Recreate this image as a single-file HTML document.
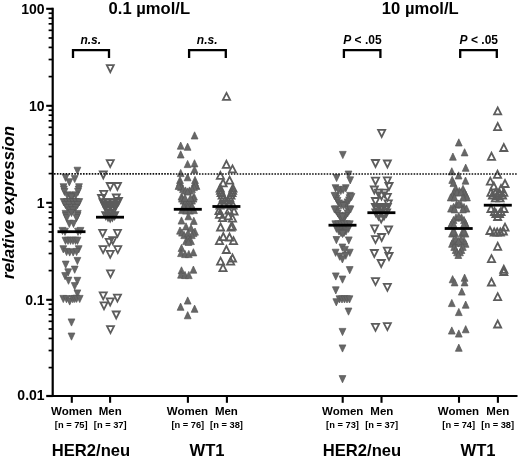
<!DOCTYPE html>
<html><head><meta charset="utf-8"><style>html,body{margin:0;padding:0;background:#fff}svg{display:block;filter:grayscale(1)}text{font-family:"Liberation Sans",sans-serif;font-weight:bold;fill:#000}</style></head><body>
<svg width="520" height="459" viewBox="0 0 520 459">
<rect width="520" height="459" fill="#fff"/>
<path d="M74.0,167.2H80.8L77.4,174.4Z" fill="#676767" stroke="#585858" stroke-width="0.7"/>
<path d="M62.2,174.2H69.0L65.6,181.4Z" fill="#676767" stroke="#585858" stroke-width="0.7"/>
<path d="M71.3,175.4H78.1L74.7,182.6Z" fill="#676767" stroke="#585858" stroke-width="0.7"/>
<path d="M65.9,178.7H72.7L69.3,185.9Z" fill="#676767" stroke="#585858" stroke-width="0.7"/>
<path d="M60.1,183.7H66.9L63.5,190.9Z" fill="#676767" stroke="#585858" stroke-width="0.7"/>
<path d="M60.5,186.0H67.3L63.9,193.2Z" fill="#676767" stroke="#585858" stroke-width="0.7"/>
<path d="M61.1,188.3H67.9L64.5,195.5Z" fill="#676767" stroke="#585858" stroke-width="0.7"/>
<path d="M75.6,183.7H82.4L79.0,190.9Z" fill="#676767" stroke="#585858" stroke-width="0.7"/>
<path d="M75.2,186.0H82.0L78.6,193.2Z" fill="#676767" stroke="#585858" stroke-width="0.7"/>
<path d="M74.6,188.3H81.4L78.0,195.5Z" fill="#676767" stroke="#585858" stroke-width="0.7"/>
<path d="M63.9,191.9H70.7L67.3,199.1Z" fill="#676767" stroke="#585858" stroke-width="0.7"/>
<path d="M66.6,192.1H73.4L70.0,199.3Z" fill="#676767" stroke="#585858" stroke-width="0.7"/>
<path d="M69.6,192.1H76.4L73.0,199.3Z" fill="#676767" stroke="#585858" stroke-width="0.7"/>
<path d="M72.3,191.9H79.1L75.7,199.1Z" fill="#676767" stroke="#585858" stroke-width="0.7"/>
<path d="M68.1,193.7H74.9L71.5,200.9Z" fill="#676767" stroke="#585858" stroke-width="0.7"/>
<path d="M60.3,198.6H67.1L63.7,205.8Z" fill="#676767" stroke="#585858" stroke-width="0.7"/>
<path d="M63.6,198.6H70.4L67.0,205.8Z" fill="#676767" stroke="#585858" stroke-width="0.7"/>
<path d="M66.6,198.6H73.4L70.0,205.8Z" fill="#676767" stroke="#585858" stroke-width="0.7"/>
<path d="M69.6,198.6H76.4L73.0,205.8Z" fill="#676767" stroke="#585858" stroke-width="0.7"/>
<path d="M72.6,198.6H79.4L76.0,205.8Z" fill="#676767" stroke="#585858" stroke-width="0.7"/>
<path d="M75.9,198.6H82.7L79.3,205.8Z" fill="#676767" stroke="#585858" stroke-width="0.7"/>
<path d="M62.1,201.4H68.9L65.5,208.6Z" fill="#676767" stroke="#585858" stroke-width="0.7"/>
<path d="M65.6,201.4H72.4L69.0,208.6Z" fill="#676767" stroke="#585858" stroke-width="0.7"/>
<path d="M70.6,201.4H77.4L74.0,208.6Z" fill="#676767" stroke="#585858" stroke-width="0.7"/>
<path d="M74.1,201.4H80.9L77.5,208.6Z" fill="#676767" stroke="#585858" stroke-width="0.7"/>
<path d="M64.1,204.4H70.9L67.5,211.6Z" fill="#676767" stroke="#585858" stroke-width="0.7"/>
<path d="M68.1,204.4H74.9L71.5,211.6Z" fill="#676767" stroke="#585858" stroke-width="0.7"/>
<path d="M72.1,204.4H78.9L75.5,211.6Z" fill="#676767" stroke="#585858" stroke-width="0.7"/>
<path d="M66.6,206.9H73.4L70.0,214.1Z" fill="#676767" stroke="#585858" stroke-width="0.7"/>
<path d="M69.6,206.9H76.4L73.0,214.1Z" fill="#676767" stroke="#585858" stroke-width="0.7"/>
<path d="M62.1,210.4H68.9L65.5,217.6Z" fill="#676767" stroke="#585858" stroke-width="0.7"/>
<path d="M74.4,210.4H81.2L77.8,217.6Z" fill="#676767" stroke="#585858" stroke-width="0.7"/>
<path d="M62.4,212.4H69.2L65.8,219.6Z" fill="#676767" stroke="#585858" stroke-width="0.7"/>
<path d="M74.1,212.4H80.9L77.5,219.6Z" fill="#676767" stroke="#585858" stroke-width="0.7"/>
<path d="M63.4,214.4H70.2L66.8,221.6Z" fill="#676767" stroke="#585858" stroke-width="0.7"/>
<path d="M73.1,214.4H79.9L76.5,221.6Z" fill="#676767" stroke="#585858" stroke-width="0.7"/>
<path d="M68.1,209.4H74.9L71.5,216.6Z" fill="#676767" stroke="#585858" stroke-width="0.7"/>
<path d="M65.9,220.3H72.7L69.3,227.5Z" fill="#676767" stroke="#585858" stroke-width="0.7"/>
<path d="M70.1,220.3H76.9L73.5,227.5Z" fill="#676767" stroke="#585858" stroke-width="0.7"/>
<path d="M59.1,227.4H65.9L62.5,234.6Z" fill="#676767" stroke="#585858" stroke-width="0.7"/>
<path d="M61.6,228.2H68.4L65.0,235.4Z" fill="#676767" stroke="#585858" stroke-width="0.7"/>
<path d="M74.6,228.2H81.4L78.0,235.4Z" fill="#676767" stroke="#585858" stroke-width="0.7"/>
<path d="M77.1,227.4H83.9L80.5,234.6Z" fill="#676767" stroke="#585858" stroke-width="0.7"/>
<path d="M62.1,237.2H68.9L65.5,244.4Z" fill="#676767" stroke="#585858" stroke-width="0.7"/>
<path d="M64.6,237.2H71.4L68.0,244.4Z" fill="#676767" stroke="#585858" stroke-width="0.7"/>
<path d="M67.1,237.2H73.9L70.5,244.4Z" fill="#676767" stroke="#585858" stroke-width="0.7"/>
<path d="M69.6,237.2H76.4L73.0,244.4Z" fill="#676767" stroke="#585858" stroke-width="0.7"/>
<path d="M72.1,237.2H78.9L75.5,244.4Z" fill="#676767" stroke="#585858" stroke-width="0.7"/>
<path d="M74.1,237.2H80.9L77.5,244.4Z" fill="#676767" stroke="#585858" stroke-width="0.7"/>
<path d="M59.9,245.7H66.7L63.3,252.9Z" fill="#676767" stroke="#585858" stroke-width="0.7"/>
<path d="M75.3,245.7H82.1L78.7,252.9Z" fill="#676767" stroke="#585858" stroke-width="0.7"/>
<path d="M63.2,248.4H70.0L66.6,255.6Z" fill="#676767" stroke="#585858" stroke-width="0.7"/>
<path d="M66.3,248.9H73.1L69.7,256.1Z" fill="#676767" stroke="#585858" stroke-width="0.7"/>
<path d="M69.8,248.9H76.6L73.2,256.1Z" fill="#676767" stroke="#585858" stroke-width="0.7"/>
<path d="M73.2,248.4H80.0L76.6,255.6Z" fill="#676767" stroke="#585858" stroke-width="0.7"/>
<path d="M74.0,257.4H80.8L77.4,264.6Z" fill="#676767" stroke="#585858" stroke-width="0.7"/>
<path d="M62.3,261.1H69.1L65.7,268.3Z" fill="#676767" stroke="#585858" stroke-width="0.7"/>
<path d="M71.3,266.1H78.1L74.7,273.3Z" fill="#676767" stroke="#585858" stroke-width="0.7"/>
<path d="M64.8,268.8H71.6L68.2,276.0Z" fill="#676767" stroke="#585858" stroke-width="0.7"/>
<path d="M61.7,272.6H68.5L65.1,279.8Z" fill="#676767" stroke="#585858" stroke-width="0.7"/>
<path d="M65.1,277.1H71.9L68.5,284.3Z" fill="#676767" stroke="#585858" stroke-width="0.7"/>
<path d="M74.0,277.3H80.8L77.4,284.5Z" fill="#676767" stroke="#585858" stroke-width="0.7"/>
<path d="M71.3,282.6H78.1L74.7,289.8Z" fill="#676767" stroke="#585858" stroke-width="0.7"/>
<path d="M74.0,289.9H80.8L77.4,297.1Z" fill="#676767" stroke="#585858" stroke-width="0.7"/>
<path d="M59.9,295.4H66.7L63.3,302.6Z" fill="#676767" stroke="#585858" stroke-width="0.7"/>
<path d="M63.1,295.6H69.9L66.5,302.8Z" fill="#676767" stroke="#585858" stroke-width="0.7"/>
<path d="M66.3,297.9H73.1L69.7,305.1Z" fill="#676767" stroke="#585858" stroke-width="0.7"/>
<path d="M69.4,295.6H76.2L72.8,302.8Z" fill="#676767" stroke="#585858" stroke-width="0.7"/>
<path d="M71.3,295.4H78.1L74.7,302.6Z" fill="#676767" stroke="#585858" stroke-width="0.7"/>
<path d="M73.2,295.2H80.0L76.6,302.4Z" fill="#676767" stroke="#585858" stroke-width="0.7"/>
<path d="M76.3,295.4H83.1L79.7,302.6Z" fill="#676767" stroke="#585858" stroke-width="0.7"/>
<path d="M68.1,318.9H74.9L71.5,326.1Z" fill="#676767" stroke="#585858" stroke-width="0.7"/>
<path d="M68.1,333.0H74.9L71.5,340.2Z" fill="#676767" stroke="#585858" stroke-width="0.7"/>
<rect x="57.5" y="230.3" width="28" height="2.8" fill="#000"/>
<path d="M106.8,65.2H113.8L110.3,72.2Z" fill="none" stroke="#5c5c5c" stroke-width="1.8"/>
<path d="M106.7,160.1H113.8L110.2,167.1Z" fill="none" stroke="#5c5c5c" stroke-width="1.8"/>
<path d="M99.8,171.5H106.8L103.3,178.5Z" fill="none" stroke="#5c5c5c" stroke-width="1.8"/>
<path d="M106.7,183.0H113.8L110.2,190.0Z" fill="none" stroke="#5c5c5c" stroke-width="1.8"/>
<path d="M113.9,183.0H121.0L117.4,190.0Z" fill="none" stroke="#5c5c5c" stroke-width="1.8"/>
<path d="M100.2,190.8H107.3L103.8,197.8Z" fill="none" stroke="#5c5c5c" stroke-width="1.8"/>
<path d="M98.0,195.0H105.0L101.5,202.0Z" fill="none" stroke="#5c5c5c" stroke-width="1.8"/>
<path d="M112.8,194.5H119.8L116.3,201.5Z" fill="none" stroke="#5c5c5c" stroke-width="1.8"/>
<path d="M115.0,198.0H122.0L118.5,205.0Z" fill="none" stroke="#5c5c5c" stroke-width="1.8"/>
<path d="M99.5,199.2H106.5L103.0,206.2Z" fill="none" stroke="#5c5c5c" stroke-width="1.8"/>
<path d="M104.0,199.2H111.0L107.5,206.2Z" fill="none" stroke="#5c5c5c" stroke-width="1.8"/>
<path d="M109.0,199.2H116.0L112.5,206.2Z" fill="none" stroke="#5c5c5c" stroke-width="1.8"/>
<path d="M113.5,199.2H120.5L117.0,206.2Z" fill="none" stroke="#5c5c5c" stroke-width="1.8"/>
<path d="M101.5,203.0H108.5L105.0,210.0Z" fill="none" stroke="#5c5c5c" stroke-width="1.8"/>
<path d="M106.7,203.0H113.8L110.2,210.0Z" fill="none" stroke="#5c5c5c" stroke-width="1.8"/>
<path d="M111.9,203.0H119.0L115.4,210.0Z" fill="none" stroke="#5c5c5c" stroke-width="1.8"/>
<path d="M103.5,207.0H110.5L107.0,214.0Z" fill="none" stroke="#5c5c5c" stroke-width="1.8"/>
<path d="M110.0,207.0H117.0L113.5,214.0Z" fill="none" stroke="#5c5c5c" stroke-width="1.8"/>
<path d="M102.2,212.1H109.3L105.8,219.1Z" fill="none" stroke="#5c5c5c" stroke-width="1.8"/>
<path d="M104.5,213.5H111.5L108.0,220.5Z" fill="none" stroke="#5c5c5c" stroke-width="1.8"/>
<path d="M106.7,214.5H113.8L110.2,221.5Z" fill="none" stroke="#5c5c5c" stroke-width="1.8"/>
<path d="M108.9,213.5H116.0L112.4,220.5Z" fill="none" stroke="#5c5c5c" stroke-width="1.8"/>
<path d="M111.0,212.1H118.1L114.6,219.1Z" fill="none" stroke="#5c5c5c" stroke-width="1.8"/>
<path d="M105.0,205.0H112.1L108.6,212.0Z" fill="none" stroke="#5c5c5c" stroke-width="1.8"/>
<path d="M108.2,205.0H115.3L111.8,212.0Z" fill="none" stroke="#5c5c5c" stroke-width="1.8"/>
<path d="M106.7,210.0H113.8L110.2,217.0Z" fill="none" stroke="#5c5c5c" stroke-width="1.8"/>
<path d="M101.8,201.1H108.8L105.3,208.1Z" fill="none" stroke="#5c5c5c" stroke-width="1.8"/>
<path d="M111.5,201.1H118.5L115.0,208.1Z" fill="none" stroke="#5c5c5c" stroke-width="1.8"/>
<path d="M99.2,229.8H106.2L102.7,236.8Z" fill="none" stroke="#5c5c5c" stroke-width="1.8"/>
<path d="M114.0,229.8H121.0L117.5,236.8Z" fill="none" stroke="#5c5c5c" stroke-width="1.8"/>
<path d="M105.7,238.8H112.8L109.2,245.8Z" fill="none" stroke="#5c5c5c" stroke-width="1.8"/>
<path d="M109.2,237.1H116.3L112.8,244.1Z" fill="none" stroke="#5c5c5c" stroke-width="1.8"/>
<path d="M99.5,246.1H106.6L103.1,253.1Z" fill="none" stroke="#5c5c5c" stroke-width="1.8"/>
<path d="M114.2,246.1H121.3L117.8,253.1Z" fill="none" stroke="#5c5c5c" stroke-width="1.8"/>
<path d="M106.7,250.8H113.8L110.2,257.8Z" fill="none" stroke="#5c5c5c" stroke-width="1.8"/>
<path d="M107.0,270.3H114.0L110.5,277.3Z" fill="none" stroke="#5c5c5c" stroke-width="1.8"/>
<path d="M99.7,292.3H106.8L103.2,299.3Z" fill="none" stroke="#5c5c5c" stroke-width="1.8"/>
<path d="M113.9,294.6H121.0L117.4,301.6Z" fill="none" stroke="#5c5c5c" stroke-width="1.8"/>
<path d="M106.7,298.4H113.8L110.2,305.4Z" fill="none" stroke="#5c5c5c" stroke-width="1.8"/>
<path d="M100.5,302.3H107.5L104.0,309.3Z" fill="none" stroke="#5c5c5c" stroke-width="1.8"/>
<path d="M112.7,311.5H119.8L116.2,318.5Z" fill="none" stroke="#5c5c5c" stroke-width="1.8"/>
<path d="M107.0,326.1H114.0L110.5,333.1Z" fill="none" stroke="#5c5c5c" stroke-width="1.8"/>
<rect x="96.0" y="215.8" width="28" height="2.8" fill="#000"/>
<path d="M191.2,139.0H198.0L194.6,131.8Z" fill="#676767" stroke="#585858" stroke-width="0.7"/>
<path d="M177.3,149.2H184.1L180.7,142.0Z" fill="#676767" stroke="#585858" stroke-width="0.7"/>
<path d="M184.2,150.3H191.0L187.6,143.1Z" fill="#676767" stroke="#585858" stroke-width="0.7"/>
<path d="M177.3,158.0H184.1L180.7,150.8Z" fill="#676767" stroke="#585858" stroke-width="0.7"/>
<path d="M184.2,167.6H191.0L187.6,160.4Z" fill="#676767" stroke="#585858" stroke-width="0.7"/>
<path d="M191.1,166.9H197.9L194.5,159.7Z" fill="#676767" stroke="#585858" stroke-width="0.7"/>
<path d="M191.1,173.1H197.9L194.5,165.9Z" fill="#676767" stroke="#585858" stroke-width="0.7"/>
<path d="M177.3,176.6H184.1L180.7,169.4Z" fill="#676767" stroke="#585858" stroke-width="0.7"/>
<path d="M184.2,180.8H191.0L187.6,173.6Z" fill="#676767" stroke="#585858" stroke-width="0.7"/>
<path d="M176.6,183.6H183.4L180.0,176.4Z" fill="#676767" stroke="#585858" stroke-width="0.7"/>
<path d="M176.6,186.1H183.4L180.0,178.9Z" fill="#676767" stroke="#585858" stroke-width="0.7"/>
<path d="M176.2,188.6H183.0L179.6,181.4Z" fill="#676767" stroke="#585858" stroke-width="0.7"/>
<path d="M177.6,190.6H184.4L181.0,183.4Z" fill="#676767" stroke="#585858" stroke-width="0.7"/>
<path d="M179.6,192.6H186.4L183.0,185.4Z" fill="#676767" stroke="#585858" stroke-width="0.7"/>
<path d="M182.1,194.1H188.9L185.5,186.9Z" fill="#676767" stroke="#585858" stroke-width="0.7"/>
<path d="M175.1,189.4H181.9L178.5,182.2Z" fill="#676767" stroke="#585858" stroke-width="0.7"/>
<path d="M193.1,189.4H199.9L196.5,182.2Z" fill="#676767" stroke="#585858" stroke-width="0.7"/>
<path d="M191.6,183.6H198.4L195.0,176.4Z" fill="#676767" stroke="#585858" stroke-width="0.7"/>
<path d="M191.6,186.1H198.4L195.0,178.9Z" fill="#676767" stroke="#585858" stroke-width="0.7"/>
<path d="M192.0,188.6H198.8L195.4,181.4Z" fill="#676767" stroke="#585858" stroke-width="0.7"/>
<path d="M190.6,190.6H197.4L194.0,183.4Z" fill="#676767" stroke="#585858" stroke-width="0.7"/>
<path d="M188.6,192.6H195.4L192.0,185.4Z" fill="#676767" stroke="#585858" stroke-width="0.7"/>
<path d="M186.1,194.1H192.9L189.5,186.9Z" fill="#676767" stroke="#585858" stroke-width="0.7"/>
<path d="M184.2,195.1H191.0L187.6,187.9Z" fill="#676767" stroke="#585858" stroke-width="0.7"/>
<path d="M178.1,200.1H184.9L181.5,192.9Z" fill="#676767" stroke="#585858" stroke-width="0.7"/>
<path d="M190.6,200.1H197.4L194.0,192.9Z" fill="#676767" stroke="#585858" stroke-width="0.7"/>
<path d="M178.6,202.1H185.4L182.0,194.9Z" fill="#676767" stroke="#585858" stroke-width="0.7"/>
<path d="M190.1,202.1H196.9L193.5,194.9Z" fill="#676767" stroke="#585858" stroke-width="0.7"/>
<path d="M180.1,204.1H186.9L183.5,196.9Z" fill="#676767" stroke="#585858" stroke-width="0.7"/>
<path d="M188.6,204.1H195.4L192.0,196.9Z" fill="#676767" stroke="#585858" stroke-width="0.7"/>
<path d="M182.1,205.6H188.9L185.5,198.4Z" fill="#676767" stroke="#585858" stroke-width="0.7"/>
<path d="M186.6,205.6H193.4L190.0,198.4Z" fill="#676767" stroke="#585858" stroke-width="0.7"/>
<path d="M184.3,207.1H191.1L187.7,199.9Z" fill="#676767" stroke="#585858" stroke-width="0.7"/>
<path d="M181.6,201.4H188.4L185.0,194.2Z" fill="#676767" stroke="#585858" stroke-width="0.7"/>
<path d="M187.1,201.4H193.9L190.5,194.2Z" fill="#676767" stroke="#585858" stroke-width="0.7"/>
<path d="M180.1,210.1H186.9L183.5,202.9Z" fill="#676767" stroke="#585858" stroke-width="0.7"/>
<path d="M184.3,210.4H191.1L187.7,203.2Z" fill="#676767" stroke="#585858" stroke-width="0.7"/>
<path d="M188.6,210.1H195.4L192.0,202.9Z" fill="#676767" stroke="#585858" stroke-width="0.7"/>
<path d="M178.6,213.6H185.4L182.0,206.4Z" fill="#676767" stroke="#585858" stroke-width="0.7"/>
<path d="M182.6,214.1H189.4L186.0,206.9Z" fill="#676767" stroke="#585858" stroke-width="0.7"/>
<path d="M186.6,214.1H193.4L190.0,206.9Z" fill="#676767" stroke="#585858" stroke-width="0.7"/>
<path d="M190.6,213.6H197.4L194.0,206.4Z" fill="#676767" stroke="#585858" stroke-width="0.7"/>
<path d="M185.0,219.8H191.8L188.4,212.6Z" fill="#676767" stroke="#585858" stroke-width="0.7"/>
<path d="M178.1,224.1H184.9L181.5,216.9Z" fill="#676767" stroke="#585858" stroke-width="0.7"/>
<path d="M190.4,224.4H197.2L193.8,217.2Z" fill="#676767" stroke="#585858" stroke-width="0.7"/>
<path d="M182.6,230.0H189.4L186.0,222.8Z" fill="#676767" stroke="#585858" stroke-width="0.7"/>
<path d="M187.6,231.6H194.4L191.0,224.4Z" fill="#676767" stroke="#585858" stroke-width="0.7"/>
<path d="M176.6,234.2H183.4L180.0,227.0Z" fill="#676767" stroke="#585858" stroke-width="0.7"/>
<path d="M191.6,235.2H198.4L195.0,228.0Z" fill="#676767" stroke="#585858" stroke-width="0.7"/>
<path d="M178.6,236.1H185.4L182.0,228.9Z" fill="#676767" stroke="#585858" stroke-width="0.7"/>
<path d="M190.1,236.6H196.9L193.5,229.4Z" fill="#676767" stroke="#585858" stroke-width="0.7"/>
<path d="M180.8,238.6H187.6L184.2,231.4Z" fill="#676767" stroke="#585858" stroke-width="0.7"/>
<path d="M188.4,238.6H195.2L191.8,231.4Z" fill="#676767" stroke="#585858" stroke-width="0.7"/>
<path d="M184.6,236.6H191.4L188.0,229.4Z" fill="#676767" stroke="#585858" stroke-width="0.7"/>
<path d="M182.6,244.6H189.4L186.0,237.4Z" fill="#676767" stroke="#585858" stroke-width="0.7"/>
<path d="M187.6,244.6H194.4L191.0,237.4Z" fill="#676767" stroke="#585858" stroke-width="0.7"/>
<path d="M185.0,242.1H191.8L188.4,234.9Z" fill="#676767" stroke="#585858" stroke-width="0.7"/>
<path d="M185.0,245.4H191.8L188.4,238.2Z" fill="#676767" stroke="#585858" stroke-width="0.7"/>
<path d="M178.1,251.6H184.9L181.5,244.4Z" fill="#676767" stroke="#585858" stroke-width="0.7"/>
<path d="M177.6,256.6H184.4L181.0,249.4Z" fill="#676767" stroke="#585858" stroke-width="0.7"/>
<path d="M181.6,257.6H188.4L185.0,250.4Z" fill="#676767" stroke="#585858" stroke-width="0.7"/>
<path d="M185.4,257.6H192.2L188.8,250.4Z" fill="#676767" stroke="#585858" stroke-width="0.7"/>
<path d="M190.0,255.9H196.8L193.4,248.7Z" fill="#676767" stroke="#585858" stroke-width="0.7"/>
<path d="M178.1,274.0H184.9L181.5,266.8Z" fill="#676767" stroke="#585858" stroke-width="0.7"/>
<path d="M190.0,273.2H196.8L193.4,266.0Z" fill="#676767" stroke="#585858" stroke-width="0.7"/>
<path d="M177.6,278.2H184.4L181.0,271.0Z" fill="#676767" stroke="#585858" stroke-width="0.7"/>
<path d="M181.6,278.6H188.4L185.0,271.4Z" fill="#676767" stroke="#585858" stroke-width="0.7"/>
<path d="M185.4,278.6H192.2L188.8,271.4Z" fill="#676767" stroke="#585858" stroke-width="0.7"/>
<path d="M184.3,304.1H191.1L187.7,296.9Z" fill="#676767" stroke="#585858" stroke-width="0.7"/>
<path d="M177.2,310.3H184.0L180.6,303.1Z" fill="#676767" stroke="#585858" stroke-width="0.7"/>
<path d="M191.2,312.3H198.0L194.6,305.1Z" fill="#676767" stroke="#585858" stroke-width="0.7"/>
<path d="M184.3,318.8H191.1L187.7,311.6Z" fill="#676767" stroke="#585858" stroke-width="0.7"/>
<rect x="173.8" y="207.9" width="28" height="2.8" fill="#000"/>
<path d="M222.9,99.9H230.1L226.5,92.9Z" fill="none" stroke="#5c5c5c" stroke-width="1.8"/>
<path d="M222.8,167.8H230.0L226.4,160.8Z" fill="none" stroke="#5c5c5c" stroke-width="1.8"/>
<path d="M228.9,172.4H236.1L232.5,165.4Z" fill="none" stroke="#5c5c5c" stroke-width="1.8"/>
<path d="M216.8,178.9H224.0L220.4,171.9Z" fill="none" stroke="#5c5c5c" stroke-width="1.8"/>
<path d="M226.0,183.7H233.2L229.6,176.7Z" fill="none" stroke="#5c5c5c" stroke-width="1.8"/>
<path d="M219.5,186.3H226.7L223.1,179.3Z" fill="none" stroke="#5c5c5c" stroke-width="1.8"/>
<path d="M216.6,191.5H223.8L220.2,184.5Z" fill="none" stroke="#5c5c5c" stroke-width="1.8"/>
<path d="M217.0,193.8H224.2L220.6,186.8Z" fill="none" stroke="#5c5c5c" stroke-width="1.8"/>
<path d="M217.6,196.0H224.8L221.2,189.0Z" fill="none" stroke="#5c5c5c" stroke-width="1.8"/>
<path d="M218.6,198.5H225.8L222.2,191.5Z" fill="none" stroke="#5c5c5c" stroke-width="1.8"/>
<path d="M219.9,201.0H227.1L223.5,194.0Z" fill="none" stroke="#5c5c5c" stroke-width="1.8"/>
<path d="M221.4,203.5H228.6L225.0,196.5Z" fill="none" stroke="#5c5c5c" stroke-width="1.8"/>
<path d="M229.3,191.5H236.5L232.9,184.5Z" fill="none" stroke="#5c5c5c" stroke-width="1.8"/>
<path d="M228.9,193.8H236.1L232.5,186.8Z" fill="none" stroke="#5c5c5c" stroke-width="1.8"/>
<path d="M228.3,196.0H235.5L231.9,189.0Z" fill="none" stroke="#5c5c5c" stroke-width="1.8"/>
<path d="M227.3,198.5H234.5L230.9,191.5Z" fill="none" stroke="#5c5c5c" stroke-width="1.8"/>
<path d="M226.0,201.0H233.2L229.6,194.0Z" fill="none" stroke="#5c5c5c" stroke-width="1.8"/>
<path d="M224.4,203.5H231.6L228.0,196.5Z" fill="none" stroke="#5c5c5c" stroke-width="1.8"/>
<path d="M216.4,208.5H223.6L220.0,201.5Z" fill="none" stroke="#5c5c5c" stroke-width="1.8"/>
<path d="M220.4,207.5H227.6L224.0,200.5Z" fill="none" stroke="#5c5c5c" stroke-width="1.8"/>
<path d="M225.4,207.5H232.6L229.0,200.5Z" fill="none" stroke="#5c5c5c" stroke-width="1.8"/>
<path d="M229.4,208.5H236.6L233.0,201.5Z" fill="none" stroke="#5c5c5c" stroke-width="1.8"/>
<path d="M215.4,214.0H222.6L219.0,207.0Z" fill="none" stroke="#5c5c5c" stroke-width="1.8"/>
<path d="M225.4,213.5H232.6L229.0,206.5Z" fill="none" stroke="#5c5c5c" stroke-width="1.8"/>
<path d="M230.4,214.5H237.6L234.0,207.5Z" fill="none" stroke="#5c5c5c" stroke-width="1.8"/>
<path d="M215.9,217.8H223.1L219.5,210.8Z" fill="none" stroke="#5c5c5c" stroke-width="1.8"/>
<path d="M218.9,221.2H226.1L222.5,214.2Z" fill="none" stroke="#5c5c5c" stroke-width="1.8"/>
<path d="M228.9,221.6H236.1L232.5,214.6Z" fill="none" stroke="#5c5c5c" stroke-width="1.8"/>
<path d="M224.8,219.3H231.9L228.3,212.3Z" fill="none" stroke="#5c5c5c" stroke-width="1.8"/>
<path d="M217.0,230.5H224.2L220.6,223.5Z" fill="none" stroke="#5c5c5c" stroke-width="1.8"/>
<path d="M228.6,229.7H235.8L232.2,222.7Z" fill="none" stroke="#5c5c5c" stroke-width="1.8"/>
<path d="M227.4,230.5H234.6L231.0,223.5Z" fill="none" stroke="#5c5c5c" stroke-width="1.8"/>
<path d="M219.8,240.1H226.9L223.3,233.1Z" fill="none" stroke="#5c5c5c" stroke-width="1.8"/>
<path d="M225.9,240.5H233.1L229.5,233.5Z" fill="none" stroke="#5c5c5c" stroke-width="1.8"/>
<path d="M215.9,244.1H223.1L219.5,237.1Z" fill="none" stroke="#5c5c5c" stroke-width="1.8"/>
<path d="M229.9,244.2H237.1L233.5,237.2Z" fill="none" stroke="#5c5c5c" stroke-width="1.8"/>
<path d="M222.8,253.0H230.0L226.4,246.0Z" fill="none" stroke="#5c5c5c" stroke-width="1.8"/>
<path d="M217.0,264.7H224.2L220.6,257.7Z" fill="none" stroke="#5c5c5c" stroke-width="1.8"/>
<path d="M228.9,261.5H236.1L232.5,254.5Z" fill="none" stroke="#5c5c5c" stroke-width="1.8"/>
<path d="M227.0,264.7H234.2L230.6,257.7Z" fill="none" stroke="#5c5c5c" stroke-width="1.8"/>
<path d="M219.4,271.2H226.6L223.0,264.2Z" fill="none" stroke="#5c5c5c" stroke-width="1.8"/>
<rect x="212.4" y="205.1" width="28" height="2.8" fill="#000"/>
<path d="M339.4,151.4H346.2L342.8,158.6Z" fill="#676767" stroke="#585858" stroke-width="0.7"/>
<path d="M345.1,171.0H351.9L348.5,178.2Z" fill="#676767" stroke="#585858" stroke-width="0.7"/>
<path d="M333.2,174.4H340.0L336.6,181.6Z" fill="#676767" stroke="#585858" stroke-width="0.7"/>
<path d="M346.8,176.8H353.6L350.2,184.0Z" fill="#676767" stroke="#585858" stroke-width="0.7"/>
<path d="M332.1,184.7H338.9L335.5,191.9Z" fill="#676767" stroke="#585858" stroke-width="0.7"/>
<path d="M342.4,184.7H349.2L345.8,191.9Z" fill="#676767" stroke="#585858" stroke-width="0.7"/>
<path d="M337.4,187.4H344.2L340.8,194.6Z" fill="#676767" stroke="#585858" stroke-width="0.7"/>
<path d="M334.9,186.4H341.7L338.3,193.6Z" fill="#676767" stroke="#585858" stroke-width="0.7"/>
<path d="M339.8,186.4H346.6L343.2,193.6Z" fill="#676767" stroke="#585858" stroke-width="0.7"/>
<path d="M332.6,192.9H339.4L336.0,200.1Z" fill="#676767" stroke="#585858" stroke-width="0.7"/>
<path d="M333.0,195.2H339.8L336.4,202.4Z" fill="#676767" stroke="#585858" stroke-width="0.7"/>
<path d="M334.1,197.4H340.9L337.5,204.6Z" fill="#676767" stroke="#585858" stroke-width="0.7"/>
<path d="M335.6,199.9H342.4L339.0,207.1Z" fill="#676767" stroke="#585858" stroke-width="0.7"/>
<path d="M346.6,192.4H353.4L350.0,199.6Z" fill="#676767" stroke="#585858" stroke-width="0.7"/>
<path d="M346.2,194.7H353.0L349.6,201.9Z" fill="#676767" stroke="#585858" stroke-width="0.7"/>
<path d="M345.6,196.9H352.4L349.0,204.1Z" fill="#676767" stroke="#585858" stroke-width="0.7"/>
<path d="M344.1,198.9H350.9L347.5,206.1Z" fill="#676767" stroke="#585858" stroke-width="0.7"/>
<path d="M342.1,200.9H348.9L345.5,208.1Z" fill="#676767" stroke="#585858" stroke-width="0.7"/>
<path d="M337.6,201.9H344.4L341.0,209.1Z" fill="#676767" stroke="#585858" stroke-width="0.7"/>
<path d="M340.1,202.4H346.9L343.5,209.6Z" fill="#676767" stroke="#585858" stroke-width="0.7"/>
<path d="M331.1,192.4H337.9L334.5,199.6Z" fill="#676767" stroke="#585858" stroke-width="0.7"/>
<path d="M348.1,193.4H354.9L351.5,200.6Z" fill="#676767" stroke="#585858" stroke-width="0.7"/>
<path d="M332.4,205.9H339.2L335.8,213.1Z" fill="#676767" stroke="#585858" stroke-width="0.7"/>
<path d="M333.1,207.9H339.9L336.5,215.1Z" fill="#676767" stroke="#585858" stroke-width="0.7"/>
<path d="M334.4,209.9H341.2L337.8,217.1Z" fill="#676767" stroke="#585858" stroke-width="0.7"/>
<path d="M336.1,212.4H342.9L339.5,219.6Z" fill="#676767" stroke="#585858" stroke-width="0.7"/>
<path d="M345.9,205.9H352.7L349.3,213.1Z" fill="#676767" stroke="#585858" stroke-width="0.7"/>
<path d="M345.3,207.9H352.1L348.7,215.1Z" fill="#676767" stroke="#585858" stroke-width="0.7"/>
<path d="M344.1,209.9H350.9L347.5,217.1Z" fill="#676767" stroke="#585858" stroke-width="0.7"/>
<path d="M342.1,212.4H348.9L345.5,219.6Z" fill="#676767" stroke="#585858" stroke-width="0.7"/>
<path d="M337.6,214.9H344.4L341.0,222.1Z" fill="#676767" stroke="#585858" stroke-width="0.7"/>
<path d="M340.6,214.9H347.4L344.0,222.1Z" fill="#676767" stroke="#585858" stroke-width="0.7"/>
<path d="M339.1,216.9H345.9L342.5,224.1Z" fill="#676767" stroke="#585858" stroke-width="0.7"/>
<path d="M339.1,213.4H345.9L342.5,220.6Z" fill="#676767" stroke="#585858" stroke-width="0.7"/>
<path d="M331.1,205.9H337.9L334.5,213.1Z" fill="#676767" stroke="#585858" stroke-width="0.7"/>
<path d="M347.1,205.9H353.9L350.5,213.1Z" fill="#676767" stroke="#585858" stroke-width="0.7"/>
<path d="M331.9,220.8H338.7L335.3,228.0Z" fill="#676767" stroke="#585858" stroke-width="0.7"/>
<path d="M334.8,220.8H341.6L338.2,228.0Z" fill="#676767" stroke="#585858" stroke-width="0.7"/>
<path d="M337.7,220.8H344.5L341.1,228.0Z" fill="#676767" stroke="#585858" stroke-width="0.7"/>
<path d="M340.6,220.8H347.4L344.0,228.0Z" fill="#676767" stroke="#585858" stroke-width="0.7"/>
<path d="M343.5,220.8H350.3L346.9,228.0Z" fill="#676767" stroke="#585858" stroke-width="0.7"/>
<path d="M346.4,220.8H353.2L349.8,228.0Z" fill="#676767" stroke="#585858" stroke-width="0.7"/>
<path d="M333.1,225.2H339.9L336.5,232.4Z" fill="#676767" stroke="#585858" stroke-width="0.7"/>
<path d="M336.1,225.7H342.9L339.5,232.9Z" fill="#676767" stroke="#585858" stroke-width="0.7"/>
<path d="M339.1,226.2H345.9L342.5,233.4Z" fill="#676767" stroke="#585858" stroke-width="0.7"/>
<path d="M342.1,225.7H348.9L345.5,232.9Z" fill="#676767" stroke="#585858" stroke-width="0.7"/>
<path d="M345.1,225.2H351.9L348.5,232.4Z" fill="#676767" stroke="#585858" stroke-width="0.7"/>
<path d="M335.6,227.9H342.4L339.0,235.1Z" fill="#676767" stroke="#585858" stroke-width="0.7"/>
<path d="M342.6,227.9H349.4L346.0,235.1Z" fill="#676767" stroke="#585858" stroke-width="0.7"/>
<path d="M337.6,229.4H344.4L341.0,236.6Z" fill="#676767" stroke="#585858" stroke-width="0.7"/>
<path d="M340.6,229.4H347.4L344.0,236.6Z" fill="#676767" stroke="#585858" stroke-width="0.7"/>
<path d="M339.2,230.4H346.0L342.6,237.6Z" fill="#676767" stroke="#585858" stroke-width="0.7"/>
<path d="M333.0,236.5H339.8L336.4,243.7Z" fill="#676767" stroke="#585858" stroke-width="0.7"/>
<path d="M345.4,236.9H352.2L348.8,244.1Z" fill="#676767" stroke="#585858" stroke-width="0.7"/>
<path d="M339.0,244.0H345.8L342.4,251.2Z" fill="#676767" stroke="#585858" stroke-width="0.7"/>
<path d="M341.6,246.4H348.4L345.0,253.6Z" fill="#676767" stroke="#585858" stroke-width="0.7"/>
<path d="M332.2,249.2H339.0L335.6,256.4Z" fill="#676767" stroke="#585858" stroke-width="0.7"/>
<path d="M346.4,249.2H353.2L349.8,256.4Z" fill="#676767" stroke="#585858" stroke-width="0.7"/>
<path d="M342.4,252.1H349.2L345.8,259.3Z" fill="#676767" stroke="#585858" stroke-width="0.7"/>
<path d="M336.3,253.1H343.1L339.7,260.3Z" fill="#676767" stroke="#585858" stroke-width="0.7"/>
<path d="M339.0,255.8H345.8L342.4,263.0Z" fill="#676767" stroke="#585858" stroke-width="0.7"/>
<path d="M346.3,266.6H353.1L349.7,273.8Z" fill="#676767" stroke="#585858" stroke-width="0.7"/>
<path d="M332.4,272.9H339.2L335.8,280.1Z" fill="#676767" stroke="#585858" stroke-width="0.7"/>
<path d="M339.1,276.0H345.9L342.5,283.2Z" fill="#676767" stroke="#585858" stroke-width="0.7"/>
<path d="M332.4,286.8H339.2L335.8,294.0Z" fill="#676767" stroke="#585858" stroke-width="0.7"/>
<path d="M336.1,295.8H342.9L339.5,303.0Z" fill="#676767" stroke="#585858" stroke-width="0.7"/>
<path d="M338.6,295.8H345.4L342.0,303.0Z" fill="#676767" stroke="#585858" stroke-width="0.7"/>
<path d="M341.1,295.8H347.9L344.5,303.0Z" fill="#676767" stroke="#585858" stroke-width="0.7"/>
<path d="M343.6,295.8H350.4L347.0,303.0Z" fill="#676767" stroke="#585858" stroke-width="0.7"/>
<path d="M346.1,295.8H352.9L349.5,303.0Z" fill="#676767" stroke="#585858" stroke-width="0.7"/>
<path d="M332.9,298.7H339.7L336.3,305.9Z" fill="#676767" stroke="#585858" stroke-width="0.7"/>
<path d="M345.1,308.0H351.9L348.5,315.2Z" fill="#676767" stroke="#585858" stroke-width="0.7"/>
<path d="M339.1,328.4H345.9L342.5,335.6Z" fill="#676767" stroke="#585858" stroke-width="0.7"/>
<path d="M339.1,344.9H345.9L342.5,352.1Z" fill="#676767" stroke="#585858" stroke-width="0.7"/>
<path d="M339.1,375.6H345.9L342.5,382.8Z" fill="#676767" stroke="#585858" stroke-width="0.7"/>
<rect x="328.5" y="223.8" width="28" height="2.8" fill="#000"/>
<path d="M378.1,129.9H385.2L381.7,136.9Z" fill="none" stroke="#5c5c5c" stroke-width="1.8"/>
<path d="M371.9,160.0H379.1L375.5,167.0Z" fill="none" stroke="#5c5c5c" stroke-width="1.8"/>
<path d="M383.8,160.5H390.9L387.4,167.5Z" fill="none" stroke="#5c5c5c" stroke-width="1.8"/>
<path d="M371.9,177.7H379.1L375.5,184.7Z" fill="none" stroke="#5c5c5c" stroke-width="1.8"/>
<path d="M383.8,177.3H390.9L387.4,184.3Z" fill="none" stroke="#5c5c5c" stroke-width="1.8"/>
<path d="M385.4,183.0H392.6L389.0,190.0Z" fill="none" stroke="#5c5c5c" stroke-width="1.8"/>
<path d="M370.8,186.5H377.9L374.3,193.5Z" fill="none" stroke="#5c5c5c" stroke-width="1.8"/>
<path d="M374.9,189.7H382.1L378.5,196.7Z" fill="none" stroke="#5c5c5c" stroke-width="1.8"/>
<path d="M380.9,189.7H388.1L384.5,196.7Z" fill="none" stroke="#5c5c5c" stroke-width="1.8"/>
<path d="M383.8,193.8H390.9L387.4,200.8Z" fill="none" stroke="#5c5c5c" stroke-width="1.8"/>
<path d="M371.9,198.0H379.1L375.5,205.0Z" fill="none" stroke="#5c5c5c" stroke-width="1.8"/>
<path d="M384.6,200.3H391.8L388.2,207.3Z" fill="none" stroke="#5c5c5c" stroke-width="1.8"/>
<path d="M377.9,192.5H385.1L381.5,199.5Z" fill="none" stroke="#5c5c5c" stroke-width="1.8"/>
<path d="M371.9,204.0H379.1L375.5,211.0Z" fill="none" stroke="#5c5c5c" stroke-width="1.8"/>
<path d="M377.8,204.0H384.9L381.4,211.0Z" fill="none" stroke="#5c5c5c" stroke-width="1.8"/>
<path d="M383.8,204.0H390.9L387.4,211.0Z" fill="none" stroke="#5c5c5c" stroke-width="1.8"/>
<path d="M373.9,206.0H381.1L377.5,213.0Z" fill="none" stroke="#5c5c5c" stroke-width="1.8"/>
<path d="M377.8,206.5H384.9L381.4,213.5Z" fill="none" stroke="#5c5c5c" stroke-width="1.8"/>
<path d="M381.9,206.0H389.1L385.5,213.0Z" fill="none" stroke="#5c5c5c" stroke-width="1.8"/>
<path d="M372.4,209.5H379.6L376.0,216.5Z" fill="none" stroke="#5c5c5c" stroke-width="1.8"/>
<path d="M377.6,209.5H384.8L381.2,216.5Z" fill="none" stroke="#5c5c5c" stroke-width="1.8"/>
<path d="M382.9,209.5H390.1L386.5,216.5Z" fill="none" stroke="#5c5c5c" stroke-width="1.8"/>
<path d="M374.9,212.5H382.1L378.5,219.5Z" fill="none" stroke="#5c5c5c" stroke-width="1.8"/>
<path d="M380.4,212.5H387.6L384.0,219.5Z" fill="none" stroke="#5c5c5c" stroke-width="1.8"/>
<path d="M377.6,215.5H384.8L381.2,222.5Z" fill="none" stroke="#5c5c5c" stroke-width="1.8"/>
<path d="M371.1,225.4H378.2L374.7,232.4Z" fill="none" stroke="#5c5c5c" stroke-width="1.8"/>
<path d="M384.9,226.5H392.1L388.5,233.5Z" fill="none" stroke="#5c5c5c" stroke-width="1.8"/>
<path d="M378.1,234.0H385.2L381.7,241.0Z" fill="none" stroke="#5c5c5c" stroke-width="1.8"/>
<path d="M371.9,236.1H379.1L375.5,243.1Z" fill="none" stroke="#5c5c5c" stroke-width="1.8"/>
<path d="M370.8,250.0H377.9L374.3,257.0Z" fill="none" stroke="#5c5c5c" stroke-width="1.8"/>
<path d="M383.8,247.7H390.9L387.4,254.7Z" fill="none" stroke="#5c5c5c" stroke-width="1.8"/>
<path d="M385.4,253.0H392.6L389.0,260.0Z" fill="none" stroke="#5c5c5c" stroke-width="1.8"/>
<path d="M377.6,260.0H384.8L381.2,267.0Z" fill="none" stroke="#5c5c5c" stroke-width="1.8"/>
<path d="M371.9,278.1H379.1L375.5,285.1Z" fill="none" stroke="#5c5c5c" stroke-width="1.8"/>
<path d="M383.8,283.8H390.9L387.4,290.8Z" fill="none" stroke="#5c5c5c" stroke-width="1.8"/>
<path d="M371.9,323.8H379.1L375.5,330.8Z" fill="none" stroke="#5c5c5c" stroke-width="1.8"/>
<path d="M383.8,323.1H390.9L387.4,330.1Z" fill="none" stroke="#5c5c5c" stroke-width="1.8"/>
<rect x="367.4" y="211.3" width="28" height="2.8" fill="#000"/>
<path d="M455.4,146.0H462.2L458.8,138.8Z" fill="#676767" stroke="#585858" stroke-width="0.7"/>
<path d="M461.2,155.9H468.0L464.6,148.7Z" fill="#676767" stroke="#585858" stroke-width="0.7"/>
<path d="M449.5,160.2H456.3L452.9,153.0Z" fill="#676767" stroke="#585858" stroke-width="0.7"/>
<path d="M462.3,171.3H469.1L465.7,164.1Z" fill="#676767" stroke="#585858" stroke-width="0.7"/>
<path d="M448.4,174.9H455.2L451.8,167.7Z" fill="#676767" stroke="#585858" stroke-width="0.7"/>
<path d="M455.2,179.0H462.0L458.6,171.8Z" fill="#676767" stroke="#585858" stroke-width="0.7"/>
<path d="M448.8,183.4H455.6L452.2,176.2Z" fill="#676767" stroke="#585858" stroke-width="0.7"/>
<path d="M450.0,186.6H456.8L453.4,179.4Z" fill="#676767" stroke="#585858" stroke-width="0.7"/>
<path d="M462.1,184.2H468.9L465.5,177.0Z" fill="#676767" stroke="#585858" stroke-width="0.7"/>
<path d="M452.3,191.6H459.1L455.7,184.4Z" fill="#676767" stroke="#585858" stroke-width="0.7"/>
<path d="M459.6,192.4H466.4L463.0,185.2Z" fill="#676767" stroke="#585858" stroke-width="0.7"/>
<path d="M455.9,194.6H462.7L459.3,187.4Z" fill="#676767" stroke="#585858" stroke-width="0.7"/>
<path d="M450.6,196.1H457.4L454.0,188.9Z" fill="#676767" stroke="#585858" stroke-width="0.7"/>
<path d="M461.1,196.1H467.9L464.5,188.9Z" fill="#676767" stroke="#585858" stroke-width="0.7"/>
<path d="M449.1,198.6H455.9L452.5,191.4Z" fill="#676767" stroke="#585858" stroke-width="0.7"/>
<path d="M462.6,198.6H469.4L466.0,191.4Z" fill="#676767" stroke="#585858" stroke-width="0.7"/>
<path d="M453.6,195.9H460.4L457.0,188.7Z" fill="#676767" stroke="#585858" stroke-width="0.7"/>
<path d="M457.6,195.9H464.4L461.0,188.7Z" fill="#676767" stroke="#585858" stroke-width="0.7"/>
<path d="M447.3,200.9H454.1L450.7,193.7Z" fill="#676767" stroke="#585858" stroke-width="0.7"/>
<path d="M463.6,200.9H470.4L467.0,193.7Z" fill="#676767" stroke="#585858" stroke-width="0.7"/>
<path d="M451.1,201.1H457.9L454.5,193.9Z" fill="#676767" stroke="#585858" stroke-width="0.7"/>
<path d="M459.6,201.1H466.4L463.0,193.9Z" fill="#676767" stroke="#585858" stroke-width="0.7"/>
<path d="M453.1,208.1H459.9L456.5,200.9Z" fill="#676767" stroke="#585858" stroke-width="0.7"/>
<path d="M457.6,208.1H464.4L461.0,200.9Z" fill="#676767" stroke="#585858" stroke-width="0.7"/>
<path d="M455.4,207.1H462.2L458.8,199.9Z" fill="#676767" stroke="#585858" stroke-width="0.7"/>
<path d="M450.1,210.6H456.9L453.5,203.4Z" fill="#676767" stroke="#585858" stroke-width="0.7"/>
<path d="M460.6,210.6H467.4L464.0,203.4Z" fill="#676767" stroke="#585858" stroke-width="0.7"/>
<path d="M447.6,212.1H454.4L451.0,204.9Z" fill="#676767" stroke="#585858" stroke-width="0.7"/>
<path d="M463.1,212.1H469.9L466.5,204.9Z" fill="#676767" stroke="#585858" stroke-width="0.7"/>
<path d="M451.1,212.9H457.9L454.5,205.7Z" fill="#676767" stroke="#585858" stroke-width="0.7"/>
<path d="M459.6,212.9H466.4L463.0,205.7Z" fill="#676767" stroke="#585858" stroke-width="0.7"/>
<path d="M452.6,221.1H459.4L456.0,213.9Z" fill="#676767" stroke="#585858" stroke-width="0.7"/>
<path d="M458.1,221.1H464.9L461.5,213.9Z" fill="#676767" stroke="#585858" stroke-width="0.7"/>
<path d="M455.3,219.6H462.1L458.7,212.4Z" fill="#676767" stroke="#585858" stroke-width="0.7"/>
<path d="M450.1,223.6H456.9L453.5,216.4Z" fill="#676767" stroke="#585858" stroke-width="0.7"/>
<path d="M460.6,223.6H467.4L464.0,216.4Z" fill="#676767" stroke="#585858" stroke-width="0.7"/>
<path d="M448.6,226.6H455.4L452.0,219.4Z" fill="#676767" stroke="#585858" stroke-width="0.7"/>
<path d="M462.1,226.6H468.9L465.5,219.4Z" fill="#676767" stroke="#585858" stroke-width="0.7"/>
<path d="M447.4,228.6H454.2L450.8,221.4Z" fill="#676767" stroke="#585858" stroke-width="0.7"/>
<path d="M462.6,228.6H469.4L466.0,221.4Z" fill="#676767" stroke="#585858" stroke-width="0.7"/>
<path d="M450.6,228.6H457.4L454.0,221.4Z" fill="#676767" stroke="#585858" stroke-width="0.7"/>
<path d="M460.1,228.6H466.9L463.5,221.4Z" fill="#676767" stroke="#585858" stroke-width="0.7"/>
<path d="M448.6,237.1H455.4L452.0,229.9Z" fill="#676767" stroke="#585858" stroke-width="0.7"/>
<path d="M451.6,236.6H458.4L455.0,229.4Z" fill="#676767" stroke="#585858" stroke-width="0.7"/>
<path d="M458.6,236.6H465.4L462.0,229.4Z" fill="#676767" stroke="#585858" stroke-width="0.7"/>
<path d="M462.1,237.1H468.9L465.5,229.9Z" fill="#676767" stroke="#585858" stroke-width="0.7"/>
<path d="M450.1,235.1H456.9L453.5,227.9Z" fill="#676767" stroke="#585858" stroke-width="0.7"/>
<path d="M460.6,235.1H467.4L464.0,227.9Z" fill="#676767" stroke="#585858" stroke-width="0.7"/>
<path d="M448.6,247.3H455.4L452.0,240.1Z" fill="#676767" stroke="#585858" stroke-width="0.7"/>
<path d="M452.1,246.6H458.9L455.5,239.4Z" fill="#676767" stroke="#585858" stroke-width="0.7"/>
<path d="M458.1,246.6H464.9L461.5,239.4Z" fill="#676767" stroke="#585858" stroke-width="0.7"/>
<path d="M462.2,247.3H469.0L465.6,240.1Z" fill="#676767" stroke="#585858" stroke-width="0.7"/>
<path d="M450.1,244.1H456.9L453.5,236.9Z" fill="#676767" stroke="#585858" stroke-width="0.7"/>
<path d="M460.6,244.1H467.4L464.0,236.9Z" fill="#676767" stroke="#585858" stroke-width="0.7"/>
<path d="M452.6,242.1H459.4L456.0,234.9Z" fill="#676767" stroke="#585858" stroke-width="0.7"/>
<path d="M457.6,242.1H464.4L461.0,234.9Z" fill="#676767" stroke="#585858" stroke-width="0.7"/>
<path d="M455.1,244.6H461.9L458.5,237.4Z" fill="#676767" stroke="#585858" stroke-width="0.7"/>
<path d="M450.8,250.4H457.6L454.2,243.2Z" fill="#676767" stroke="#585858" stroke-width="0.7"/>
<path d="M459.4,250.4H466.2L462.8,243.2Z" fill="#676767" stroke="#585858" stroke-width="0.7"/>
<path d="M452.3,253.5H459.1L455.7,246.3Z" fill="#676767" stroke="#585858" stroke-width="0.7"/>
<path d="M458.0,253.5H464.8L461.4,246.3Z" fill="#676767" stroke="#585858" stroke-width="0.7"/>
<path d="M453.6,255.8H460.4L457.0,248.6Z" fill="#676767" stroke="#585858" stroke-width="0.7"/>
<path d="M456.6,255.8H463.4L460.0,248.6Z" fill="#676767" stroke="#585858" stroke-width="0.7"/>
<path d="M454.9,258.5H461.7L458.3,251.3Z" fill="#676767" stroke="#585858" stroke-width="0.7"/>
<path d="M449.2,282.8H456.0L452.6,275.6Z" fill="#676767" stroke="#585858" stroke-width="0.7"/>
<path d="M451.2,285.9H458.0L454.6,278.7Z" fill="#676767" stroke="#585858" stroke-width="0.7"/>
<path d="M461.2,281.3H468.0L464.6,274.1Z" fill="#676767" stroke="#585858" stroke-width="0.7"/>
<path d="M461.2,285.9H468.0L464.6,278.7Z" fill="#676767" stroke="#585858" stroke-width="0.7"/>
<path d="M458.4,295.1H465.2L461.8,287.9Z" fill="#676767" stroke="#585858" stroke-width="0.7"/>
<path d="M448.4,306.6H455.2L451.8,299.4Z" fill="#676767" stroke="#585858" stroke-width="0.7"/>
<path d="M462.3,308.2H469.1L465.7,301.0Z" fill="#676767" stroke="#585858" stroke-width="0.7"/>
<path d="M455.4,315.6H462.2L458.8,308.4Z" fill="#676767" stroke="#585858" stroke-width="0.7"/>
<path d="M448.4,334.1H455.2L451.8,326.9Z" fill="#676767" stroke="#585858" stroke-width="0.7"/>
<path d="M462.3,332.8H469.1L465.7,325.6Z" fill="#676767" stroke="#585858" stroke-width="0.7"/>
<path d="M455.4,337.1H462.2L458.8,329.9Z" fill="#676767" stroke="#585858" stroke-width="0.7"/>
<path d="M455.4,351.3H462.2L458.8,344.1Z" fill="#676767" stroke="#585858" stroke-width="0.7"/>
<rect x="444.7" y="227.1" width="28" height="2.8" fill="#000"/>
<path d="M494.1,114.4H501.2L497.7,107.4Z" fill="none" stroke="#5c5c5c" stroke-width="1.8"/>
<path d="M494.1,130.1H501.2L497.7,123.1Z" fill="none" stroke="#5c5c5c" stroke-width="1.8"/>
<path d="M500.2,151.0H507.4L503.8,144.0Z" fill="none" stroke="#5c5c5c" stroke-width="1.8"/>
<path d="M487.9,159.8H495.1L491.5,152.8Z" fill="none" stroke="#5c5c5c" stroke-width="1.8"/>
<path d="M493.9,177.8H501.1L497.5,170.8Z" fill="none" stroke="#5c5c5c" stroke-width="1.8"/>
<path d="M486.8,184.7H493.9L490.3,177.7Z" fill="none" stroke="#5c5c5c" stroke-width="1.8"/>
<path d="M501.4,187.0H508.6L505.0,180.0Z" fill="none" stroke="#5c5c5c" stroke-width="1.8"/>
<path d="M490.2,189.5H497.4L493.8,182.5Z" fill="none" stroke="#5c5c5c" stroke-width="1.8"/>
<path d="M497.4,192.0H504.6L501.0,185.0Z" fill="none" stroke="#5c5c5c" stroke-width="1.8"/>
<path d="M487.4,195.8H494.6L491.0,188.8Z" fill="none" stroke="#5c5c5c" stroke-width="1.8"/>
<path d="M491.8,196.3H498.9L495.3,189.3Z" fill="none" stroke="#5c5c5c" stroke-width="1.8"/>
<path d="M495.9,196.3H503.1L499.5,189.3Z" fill="none" stroke="#5c5c5c" stroke-width="1.8"/>
<path d="M500.2,195.8H507.4L503.8,188.8Z" fill="none" stroke="#5c5c5c" stroke-width="1.8"/>
<path d="M488.9,198.5H496.1L492.5,191.5Z" fill="none" stroke="#5c5c5c" stroke-width="1.8"/>
<path d="M493.9,199.0H501.1L497.5,192.0Z" fill="none" stroke="#5c5c5c" stroke-width="1.8"/>
<path d="M498.9,198.5H506.1L502.5,191.5Z" fill="none" stroke="#5c5c5c" stroke-width="1.8"/>
<path d="M491.8,201.3H498.9L495.3,194.3Z" fill="none" stroke="#5c5c5c" stroke-width="1.8"/>
<path d="M496.4,201.3H503.6L500.0,194.3Z" fill="none" stroke="#5c5c5c" stroke-width="1.8"/>
<path d="M487.4,212.0H494.6L491.0,205.0Z" fill="none" stroke="#5c5c5c" stroke-width="1.8"/>
<path d="M500.4,212.0H507.6L504.0,205.0Z" fill="none" stroke="#5c5c5c" stroke-width="1.8"/>
<path d="M490.9,215.0H498.1L494.5,208.0Z" fill="none" stroke="#5c5c5c" stroke-width="1.8"/>
<path d="M497.4,215.0H504.6L501.0,208.0Z" fill="none" stroke="#5c5c5c" stroke-width="1.8"/>
<path d="M492.4,217.0H499.6L496.0,210.0Z" fill="none" stroke="#5c5c5c" stroke-width="1.8"/>
<path d="M495.9,217.0H503.1L499.5,210.0Z" fill="none" stroke="#5c5c5c" stroke-width="1.8"/>
<path d="M494.1,220.0H501.2L497.6,213.0Z" fill="none" stroke="#5c5c5c" stroke-width="1.8"/>
<path d="M501.4,230.6H508.6L505.0,223.6Z" fill="none" stroke="#5c5c5c" stroke-width="1.8"/>
<path d="M486.4,234.0H493.6L490.0,227.0Z" fill="none" stroke="#5c5c5c" stroke-width="1.8"/>
<path d="M490.6,235.5H497.8L494.2,228.5Z" fill="none" stroke="#5c5c5c" stroke-width="1.8"/>
<path d="M493.6,235.5H500.8L497.2,228.5Z" fill="none" stroke="#5c5c5c" stroke-width="1.8"/>
<path d="M496.8,235.5H503.9L500.3,228.5Z" fill="none" stroke="#5c5c5c" stroke-width="1.8"/>
<path d="M499.8,234.5H506.9L503.4,227.5Z" fill="none" stroke="#5c5c5c" stroke-width="1.8"/>
<path d="M494.1,249.8H501.2L497.7,242.8Z" fill="none" stroke="#5c5c5c" stroke-width="1.8"/>
<path d="M487.9,262.1H495.1L491.5,255.1Z" fill="none" stroke="#5c5c5c" stroke-width="1.8"/>
<path d="M500.2,272.8H507.4L503.8,265.8Z" fill="none" stroke="#5c5c5c" stroke-width="1.8"/>
<path d="M500.2,275.0H507.4L503.8,268.0Z" fill="none" stroke="#5c5c5c" stroke-width="1.8"/>
<path d="M487.9,285.5H495.1L491.5,278.5Z" fill="none" stroke="#5c5c5c" stroke-width="1.8"/>
<path d="M494.1,300.2H501.2L497.7,293.2Z" fill="none" stroke="#5c5c5c" stroke-width="1.8"/>
<path d="M494.1,327.5H501.2L497.7,320.5Z" fill="none" stroke="#5c5c5c" stroke-width="1.8"/>
<rect x="483.8" y="203.8" width="28" height="2.8" fill="#000"/>
<line x1="54" y1="173.9" x2="518" y2="174" stroke="#111" stroke-width="1.6" stroke-dasharray="1.6,1.3"/>
<path d="M52.7,7.70 V396 H517.5" fill="none" stroke="#000" stroke-width="2.2"/>
<line x1="46.2" y1="396" x2="52.7" y2="396" stroke="#000" stroke-width="2.2"/>
<line x1="48.6" y1="367.60" x2="52.7" y2="367.60" stroke="#000" stroke-width="1.7"/>
<line x1="48.6" y1="350.52" x2="52.7" y2="350.52" stroke="#000" stroke-width="1.7"/>
<line x1="48.6" y1="338.40" x2="52.7" y2="338.40" stroke="#000" stroke-width="1.7"/>
<line x1="48.6" y1="329.00" x2="52.7" y2="329.00" stroke="#000" stroke-width="1.7"/>
<line x1="48.6" y1="321.32" x2="52.7" y2="321.32" stroke="#000" stroke-width="1.7"/>
<line x1="48.6" y1="314.83" x2="52.7" y2="314.83" stroke="#000" stroke-width="1.7"/>
<line x1="48.6" y1="309.20" x2="52.7" y2="309.20" stroke="#000" stroke-width="1.7"/>
<line x1="48.6" y1="304.24" x2="52.7" y2="304.24" stroke="#000" stroke-width="1.7"/>
<line x1="46.2" y1="299.80" x2="52.7" y2="299.80" stroke="#000" stroke-width="2.1"/>
<line x1="48.6" y1="270.60" x2="52.7" y2="270.60" stroke="#000" stroke-width="1.7"/>
<line x1="48.6" y1="253.52" x2="52.7" y2="253.52" stroke="#000" stroke-width="1.7"/>
<line x1="48.6" y1="241.40" x2="52.7" y2="241.40" stroke="#000" stroke-width="1.7"/>
<line x1="48.6" y1="232.00" x2="52.7" y2="232.00" stroke="#000" stroke-width="1.7"/>
<line x1="48.6" y1="224.32" x2="52.7" y2="224.32" stroke="#000" stroke-width="1.7"/>
<line x1="48.6" y1="217.83" x2="52.7" y2="217.83" stroke="#000" stroke-width="1.7"/>
<line x1="48.6" y1="212.20" x2="52.7" y2="212.20" stroke="#000" stroke-width="1.7"/>
<line x1="48.6" y1="207.24" x2="52.7" y2="207.24" stroke="#000" stroke-width="1.7"/>
<line x1="46.2" y1="202.80" x2="52.7" y2="202.80" stroke="#000" stroke-width="2.1"/>
<line x1="48.6" y1="173.60" x2="52.7" y2="173.60" stroke="#000" stroke-width="1.7"/>
<line x1="48.6" y1="156.52" x2="52.7" y2="156.52" stroke="#000" stroke-width="1.7"/>
<line x1="48.6" y1="144.40" x2="52.7" y2="144.40" stroke="#000" stroke-width="1.7"/>
<line x1="48.6" y1="135.00" x2="52.7" y2="135.00" stroke="#000" stroke-width="1.7"/>
<line x1="48.6" y1="127.32" x2="52.7" y2="127.32" stroke="#000" stroke-width="1.7"/>
<line x1="48.6" y1="120.83" x2="52.7" y2="120.83" stroke="#000" stroke-width="1.7"/>
<line x1="48.6" y1="115.20" x2="52.7" y2="115.20" stroke="#000" stroke-width="1.7"/>
<line x1="48.6" y1="110.24" x2="52.7" y2="110.24" stroke="#000" stroke-width="1.7"/>
<line x1="46.2" y1="105.80" x2="52.7" y2="105.80" stroke="#000" stroke-width="2.1"/>
<line x1="48.6" y1="76.60" x2="52.7" y2="76.60" stroke="#000" stroke-width="1.7"/>
<line x1="48.6" y1="59.52" x2="52.7" y2="59.52" stroke="#000" stroke-width="1.7"/>
<line x1="48.6" y1="47.40" x2="52.7" y2="47.40" stroke="#000" stroke-width="1.7"/>
<line x1="48.6" y1="38.00" x2="52.7" y2="38.00" stroke="#000" stroke-width="1.7"/>
<line x1="48.6" y1="30.32" x2="52.7" y2="30.32" stroke="#000" stroke-width="1.7"/>
<line x1="48.6" y1="23.83" x2="52.7" y2="23.83" stroke="#000" stroke-width="1.7"/>
<line x1="48.6" y1="18.20" x2="52.7" y2="18.20" stroke="#000" stroke-width="1.7"/>
<line x1="48.6" y1="13.24" x2="52.7" y2="13.24" stroke="#000" stroke-width="1.7"/>
<line x1="46.2" y1="8.80" x2="52.7" y2="8.80" stroke="#000" stroke-width="2.1"/>
<text x="44.6" y="13.50" font-size="14" text-anchor="end">100</text>
<text x="44.6" y="110.50" font-size="14" text-anchor="end">10</text>
<text x="44.6" y="207.50" font-size="14" text-anchor="end">1</text>
<text x="44.6" y="304.50" font-size="14" text-anchor="end">0.1</text>
<text x="44.6" y="400.40" font-size="14" text-anchor="end">0.01</text>
<text transform="translate(13.5,202.4) rotate(-90)" font-size="16.9" font-style="italic" text-anchor="middle">relative expression</text>
<line x1="71.8" y1="396" x2="71.8" y2="402.8" stroke="#000" stroke-width="2.1"/>
<text x="71.7" y="415.4" font-size="11.5" text-anchor="middle">Women</text>
<text x="71.2" y="427.9" font-size="9.3" text-anchor="middle">[n = 75]</text>
<line x1="110.1" y1="396" x2="110.1" y2="402.8" stroke="#000" stroke-width="2.1"/>
<text x="110.2" y="415.4" font-size="11.5" text-anchor="middle">Men</text>
<text x="110.2" y="427.9" font-size="9.3" text-anchor="middle">[n = 37]</text>
<line x1="187.9" y1="396" x2="187.9" y2="402.8" stroke="#000" stroke-width="2.1"/>
<text x="187.5" y="415.4" font-size="11.5" text-anchor="middle">Women</text>
<text x="187.8" y="427.9" font-size="9.3" text-anchor="middle">[n = 76]</text>
<line x1="226.9" y1="396" x2="226.9" y2="402.8" stroke="#000" stroke-width="2.1"/>
<text x="226.4" y="415.4" font-size="11.5" text-anchor="middle">Men</text>
<text x="226.5" y="427.9" font-size="9.3" text-anchor="middle">[n = 38]</text>
<line x1="342.7" y1="396" x2="342.7" y2="402.8" stroke="#000" stroke-width="2.1"/>
<text x="342.7" y="415.4" font-size="11.5" text-anchor="middle">Women</text>
<text x="342.5" y="427.9" font-size="9.3" text-anchor="middle">[n = 73]</text>
<line x1="381.5" y1="396" x2="381.5" y2="402.8" stroke="#000" stroke-width="2.1"/>
<text x="381.8" y="415.4" font-size="11.5" text-anchor="middle">Men</text>
<text x="381.6" y="427.9" font-size="9.3" text-anchor="middle">[n = 37]</text>
<line x1="459" y1="396" x2="459" y2="402.8" stroke="#000" stroke-width="2.1"/>
<text x="458.5" y="415.4" font-size="11.5" text-anchor="middle">Women</text>
<text x="458.7" y="427.9" font-size="9.3" text-anchor="middle">[n = 74]</text>
<line x1="497.9" y1="396" x2="497.9" y2="402.8" stroke="#000" stroke-width="2.1"/>
<text x="497.8" y="415.4" font-size="11.5" text-anchor="middle">Men</text>
<text x="497.7" y="427.9" font-size="9.3" text-anchor="middle">[n = 38]</text>
<text x="91" y="456.3" font-size="16.6" text-anchor="middle">HER2/neu</text>
<text x="207" y="456.3" font-size="16.6" text-anchor="middle">WT1</text>
<text x="362" y="456.3" font-size="16.6" text-anchor="middle">HER2/neu</text>
<text x="478" y="456.3" font-size="16.6" text-anchor="middle">WT1</text>
<text x="149.3" y="13.8" font-size="16.6" text-anchor="middle">0.1 µmol/L</text>
<text x="420.3" y="13.8" font-size="16.6" text-anchor="middle">10 µmol/L</text>
<path d="M73.0,58.1 V50.1 H109.0 V58.1" fill="none" stroke="#000" stroke-width="2.3"/>
<text x="90.8" y="43.5" font-size="12" font-style="italic" text-anchor="middle">n.s.</text>
<path d="M189.1,58.1 V50.1 H225.8 V58.1" fill="none" stroke="#000" stroke-width="2.3"/>
<text x="207.2" y="43.5" font-size="12" font-style="italic" text-anchor="middle">n.s.</text>
<path d="M343.9,58.1 V50.1 H380.4 V58.1" fill="none" stroke="#000" stroke-width="2.3"/>
<text x="362.4" y="44.3" font-size="12" text-anchor="middle"><tspan font-style="italic">P</tspan> &lt; .05</text>
<path d="M460.2,58.1 V50.1 H496.8 V58.1" fill="none" stroke="#000" stroke-width="2.3"/>
<text x="478.8" y="44.3" font-size="12" text-anchor="middle"><tspan font-style="italic">P</tspan> &lt; .05</text>
</svg></body></html>
